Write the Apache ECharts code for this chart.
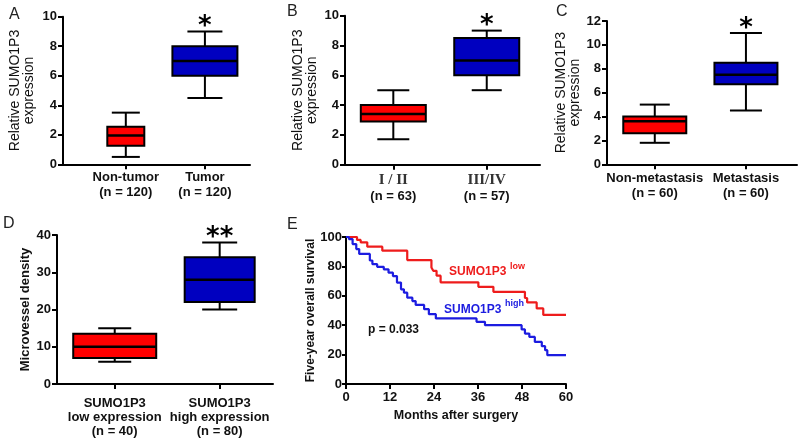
<!DOCTYPE html>
<html><head><meta charset="utf-8">
<script src="https://cdn.jsdelivr.net/npm/echarts@6/dist/echarts.min.js"></script>
<style>html,body{margin:0;padding:0;background:#fff}#c{width:800px;height:444px}</style>
</head><body><div id="c"></div>
<script>
// ---------------- data ----------------
const catA = ['Non-tumor\n(n = 120)', 'Tumor\n(n = 120)'];
const boxA = [[0.5, 1.25, 1.95, 2.55, 3.5], [4.5, 6.0, 7.0, 8.0, 9.0]];   // min,q1,median,q3,max
const sigA = ['', '*'];

const catB = ['I / II', 'III/IV'];
const nB = ['(n = 63)', '(n = 57)'];
const boxB = [[1.7, 2.9, 3.4, 4.0, 5.0], [5.0, 6.0, 7.0, 8.5, 9.0]];
const sigB = ['', '*'];

const catC = ['Non-metastasis\n(n = 60)', 'Metastasis\n(n = 60)'];
const boxC = [[1.8, 2.6, 3.6, 4.0, 5.0], [4.5, 6.7, 7.5, 8.5, 11.0]];
const sigC = ['', '*'];

const catD = ['SUMO1P3\nlow expression\n(n = 40)', 'SUMO1P3\nhigh expression\n(n = 80)'];
const boxD = [[6, 7, 10, 13.5, 15], [20, 22, 28, 34, 38]];
const sigD = ['', '**'];

// Kaplan-Meier curves: [month, survival %]
const kmLow = [[0,100],[3,98],[4,96.4],[5.8,93.4],[9.9,90.7],[16.7,84.3],[23.3,79.3],[23.8,77],[24.7,73.7],[25.8,69.2],
  [36.1,66.1],[40.2,62.7],[48.8,58.5],[49.4,55.5],[52,51.4],[53.8,47],[60,47]];
const kmHigh = [[0,100],[0.8,98.6],[1.8,95.2],[2.8,91.8],[3.6,88.5],[6.5,84],[7.2,81.5],[8.5,79.7],[10.3,78],[11.6,75.7],
  [12.8,73.4],[13.9,69],[15,64.4],[15.8,62.1],[16.7,58.7],[18.1,56.4],[19,53.8],[21.3,50.9],[22.6,47.5],[24.5,44.6],
  [35.6,42.3],[37.9,40],[47.9,37.1],[48.8,34.3],[50,32],[51.5,28.6],[53.4,25.7],[54.3,23],[54.9,19.6],[60,19.6]];
const kmXTicks = [0, 12, 24, 36, 48, 60];
const yTitleExpr = 'Relative SUMO1P3\nexpression';

// ---------------- layout / style ----------------
const FONT = 'Liberation Sans, Arial, sans-serif';
const RED = '#ff0000', BLUE = '#0000c0';
const KM_RED = '#ee1c1c', KM_BLUE = '#1c1ce0';
const TXT = '#111';

const panels = [
  {grid:{left:63,top:16.7,width:187,height:147.6}, xMin:-0.794, xMax:1.57, yMax:10, yInt:2,
   cats:catA, box:boxA, sig:sigA, boxW:[37,65], capW:[28,35], name:yTitleExpr, nameGap:27, nameBold:false, nameSize:14, lblMargin:6, lh:15},
  {grid:{left:345,top:15.7,width:195,height:149}, xMin:-0.517, xMax:1.57, yMax:10, yInt:2,
   cats:catB, box:boxB, sig:sigB, boxW:[65,65], capW:[32,30], name:yTitleExpr, nameGap:26, nameBold:false, nameSize:14, lblMargin:7, lh:15, roman:true},
  {grid:{left:607,top:21,width:190,height:143.3}, xMin:-0.524, xMax:1.56, yMax:12, yInt:2,
   cats:catC, box:boxC, sig:sigC, boxW:[63,63], capW:[30,32], name:yTitleExpr, nameGap:22, nameBold:false, nameSize:14, lblMargin:6.5, lh:15},
  {grid:{left:57,top:235,width:216,height:149}, xMin:-0.55, xMax:1.508, yMax:40, yInt:10,
   cats:catD, box:boxD, sig:sigD, boxW:[83,70], capW:[33,35], name:'Microvessel density', nameGap:18, nameBold:true, nameSize:13, lblMargin:12, lh:14}
];

const grids = [], xAxes = [], yAxes = [], series = [];
const axisLine = {show:true, onZero:false, lineStyle:{color:'#000', width:2}};
const tickStyle = {color:'#000', width:2};

panels.forEach((p, i) => {
  grids.push(Object.assign({containLabel:false}, p.grid));
  xAxes.push({
    type:'value', gridIndex:i, min:p.xMin, max:p.xMax,
    axisLine, splitLine:{show:false},
    axisTick:{show:true, customValues:[0,1], length:5, lineStyle:tickStyle},
    axisLabel:{
      customValues:[0,1], margin:p.lblMargin, color:TXT, fontFamily:FONT, fontWeight:'bold', fontSize:13, lineHeight:p.lh,
      formatter: v => {
        const k = Math.round(v);
        if (p.roman) return '{r|' + p.cats[k] + '}\n{b|' + nB[k] + '}';
        return p.cats[k];
      },
      rich: p.roman ? {
        r:{fontFamily:'Liberation Serif, DejaVu Serif, serif', fontSize:15, color:'#333', lineHeight:17},
        b:{fontFamily:FONT, fontWeight:'bold', fontSize:13, color:TXT, lineHeight:15}
      } : undefined
    }
  });
  yAxes.push({
    type:'value', gridIndex:i, min:0, max:p.yMax, interval:p.yInt,
    axisLine, splitLine:{show:false},
    axisTick:{show:true, length:5, lineStyle:tickStyle},
    axisLabel:{color:TXT, fontFamily:FONT, fontWeight:'bold', fontSize:13, margin:6},
    name:p.name, nameLocation:'middle', nameRotate:90, nameGap:p.nameGap,
    nameTextStyle:{color:TXT, fontFamily:FONT, fontSize:p.nameSize, fontWeight:p.nameBold?'bold':'normal', lineHeight:14}
  });
  series.push({
    type:'custom', xAxisIndex:i, yAxisIndex:i, clip:false,
    data: p.box.map((b, k) => [k].concat(b)),
    renderItem(params, api) {
      const k = api.value(0);
      const v = [1,2,3,4,5].map(j => api.value(j));
      const cx = api.coord([k, v[0]])[0];
      const y = v.map(val => api.coord([k, val])[1]);
      const bw = p.boxW[k], cw = p.capW[k];
      const st = {stroke:'#000', lineWidth:2, fill:null};
      const ch = [
        {type:'line', shape:{x1:cx,y1:y[0],x2:cx,y2:y[1]}, style:st},
        {type:'line', shape:{x1:cx,y1:y[3],x2:cx,y2:y[4]}, style:st},
        {type:'line', shape:{x1:cx-cw/2,y1:y[0],x2:cx+cw/2,y2:y[0]}, style:st},
        {type:'line', shape:{x1:cx-cw/2,y1:y[4],x2:cx+cw/2,y2:y[4]}, style:st},
        {type:'rect', shape:{x:cx-bw/2,y:y[3],width:bw,height:y[1]-y[3]}, style:{fill:k===0?RED:BLUE, stroke:'#000', lineWidth:2}},
        {type:'line', shape:{x1:cx-bw/2,y1:y[2],x2:cx+bw/2,y2:y[2]}, style:{stroke:'#000', lineWidth:2.5}}
      ];
      if (p.sig[k]) {
        ch.push({type:'text', style:{text:p.sig[k], x:cx, y:y[4]+9, align:'center', verticalAlign:'bottom',
          fontFamily:'DejaVu Sans', fontWeight:'bold', fontSize:26, fill:'#000'}});
      }
      return {type:'group', children:ch};
    }
  });
});

// Panel E: Kaplan-Meier
const iE = panels.length;
grids.push({left:346, top:237, width:220, height:147});
xAxes.push({
  type:'value', gridIndex:iE, min:0, max:60, interval:12,
  axisLine, splitLine:{show:false},
  axisTick:{show:true, length:5, lineStyle:tickStyle},
  axisLabel:{color:TXT, fontFamily:FONT, fontWeight:'bold', fontSize:13, margin:7,
    formatter: v => kmXTicks.includes(v) ? String(v) : ''},
  name:'Months after surgery', nameLocation:'middle', nameGap:25,
  nameTextStyle:{color:TXT, fontFamily:FONT, fontWeight:'bold', fontSize:12.5}
});
yAxes.push({
  type:'value', gridIndex:iE, min:0, max:100, interval:20,
  axisLine, splitLine:{show:false},
  axisTick:{show:true, length:4, lineStyle:tickStyle},
  axisLabel:{color:TXT, fontFamily:FONT, fontWeight:'bold', fontSize:13, margin:4},
  name:'Five-year overall survival', nameLocation:'middle', nameRotate:90, nameGap:29,
  nameTextStyle:{color:TXT, fontFamily:FONT, fontWeight:'bold', fontSize:12}
});
series.push(
  {type:'line', xAxisIndex:iE, yAxisIndex:iE, data:kmLow, step:'end', showSymbol:false, symbol:'none',
   lineStyle:{color:KM_RED, width:2.2}, itemStyle:{color:KM_RED}, z:3},
  {type:'line', xAxisIndex:iE, yAxisIndex:iE, data:kmHigh, step:'end', showSymbol:false, symbol:'none',
   lineStyle:{color:KM_BLUE, width:2.2}, itemStyle:{color:KM_BLUE}, z:3}
);

const letter = (t, x, y) => ({type:'text', left:x, top:y, style:{text:t, fontFamily:FONT, fontSize:16, fill:'#222'}});
const graphic = [
  letter('A', 9, 7), letter('B', 287, 4), letter('C', 556, 4), letter('D', 3, 216), letter('E', 287, 217),
  {type:'text', left:449, top:266, style:{text:'SUMO1P3', fontFamily:FONT, fontWeight:'bold', fontSize:12, fill:KM_RED}},
  {type:'text', left:510, top:262, style:{text:'low', fontFamily:FONT, fontWeight:'bold', fontSize:9, fill:KM_RED}},
  {type:'text', left:444, top:304, style:{text:'SUMO1P3', fontFamily:FONT, fontWeight:'bold', fontSize:12, fill:KM_BLUE}},
  {type:'text', left:505, top:299, style:{text:'high', fontFamily:FONT, fontWeight:'bold', fontSize:9, fill:KM_BLUE}},
  {type:'text', left:368, top:324, style:{text:'p = 0.033', fontFamily:FONT, fontWeight:'bold', fontSize:12, fill:TXT}}
];

const chart = echarts.init(document.getElementById('c'), null, {renderer:'canvas'});
chart.setOption({
  animation:false, backgroundColor:'#fff',
  grid:grids, xAxis:xAxes, yAxis:yAxes, series, graphic
});
</script></body></html>
